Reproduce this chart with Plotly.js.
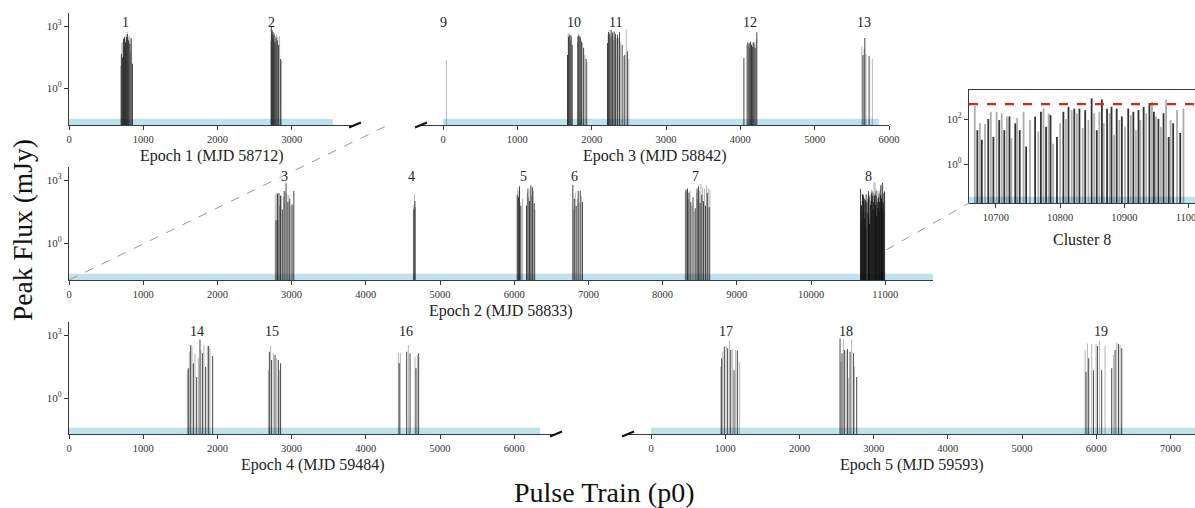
<!DOCTYPE html>
<html><head><meta charset="utf-8">
<script src="https://cdn.plot.ly/plotly-3.0.1.min.js"></script>
<style>html,body{margin:0;padding:0;background:#fff}#chart{width:1195px;height:508px}</style>
</head><body><div id="chart"></div>
<script>
// ---------------- DATA (pulse index p0, peak flux mJy) ----------------
// Epoch 1 (MJD 58712): clusters 1, 2
const c1_p0 = [698,705,712,720,727,734,741,748,755,762,769,776,783,790,797,804,812,820,828,836,845,855];
const c1_flux = [12,45,150,30,180,250,90,300,220,160,380,290,520,410,260,200,330,140,60,260,220,15];
const c2_p0 = [2720,2726,2732,2738,2744,2750,2756,2762,2768,2775,2782,2790,2798,2806,2815,2825,2838,2852,2862];
const c2_flux = [180,950,420,650,300,520,240,380,460,160,330,270,400,200,300,120,330,25,20];
// Epoch 3 (MJD 58842): clusters 9-13
const c9_p0 = [45];
const c9_flux = [22];
const c10_p0 = [1675,1683,1690,1698,1706,1714,1722,1730,1738,1808,1815,1822,1830,1838,1846,1855,1865,1878,1892,1908,1925,1938];
const c10_flux = [40,420,300,450,380,200,350,280,120,180,320,420,350,260,300,230,180,150,90,40,25,18];
const c11_p0 = [2212,2220,2228,2236,2244,2252,2262,2272,2282,2292,2302,2312,2322,2335,2348,2360,2375,2390,2410,2430,2445,2465,2480,2500];
const c11_flux = [150,380,520,600,420,280,650,350,480,200,550,300,420,250,380,260,500,180,120,35,40,700,60,25];
const c12_p0 = [4048,4085,4100,4110,4118,4126,4134,4142,4150,4158,4166,4174,4182,4190,4200,4212,4222];
const c12_flux = [28,130,160,110,150,90,180,140,120,160,100,150,170,130,90,220,500];
const c13_p0 = [5635,5650,5665,5675,5690,5732,5775];
const c13_flux = [100,40,80,260,45,35,25];
// Epoch 2 (MJD 58833): clusters 3-8
const c3_p0 = [2780,2790,2800,2810,2820,2830,2840,2850,2862,2875,2888,2900,2912,2925,2938,2950,2962,2975,2990,3005,3020,3030];
const c3_flux = [200,12,250,220,12,240,60,180,200,40,160,300,250,700,220,90,200,130,60,70,60,300];
const c4_p0 = [4640,4648,4655,4662,4670];
const c4_flux = [60,40,210,100,50];
const c5_p0 = [6040,6048,6056,6064,6072,6080,6090,6112,6165,6175,6185,6195,6205,6215,6225,6235,6245,6258,6270,6280];
const c5_flux = [200,400,150,300,500,90,60,130,60,250,380,150,100,400,570,180,450,300,80,40];
const c6_p0 = [6790,6800,6810,6822,6835,6850,6862,6875,6890,6905,6920];
const c6_flux = [580,40,130,250,60,130,300,80,320,170,90];
const c7_p0 = [8305,8315,8325,8335,8345,8355,8368,8380,8395,8410,8425,8440,8455,8465,8475,8485,8495,8505,8515,8528,8540,8552,8565,8578,8590,8602,8615,8628,8638];
const c7_flux = [280,350,320,400,120,250,300,90,60,150,30,45,250,400,120,500,300,80,650,200,450,100,380,60,550,250,420,50,350];
const c8_p0 = [10667,10671,10675,10678,10683,10688,10692,10696,10701,10705,10709,10713,10717,10721,10724,10730,10733,10737,10743,10747,10753,10761,10766,10770,10774,10778,10782,10785,10789,10795,10800,10805,10809,10813,10818,10822,10826,10830,10835,10839,10844,10849,10853,10857,10861,10865,10868,10873,10877,10880,10884,10888,10892,10896,10901,10906,10910,10914,10918,10922,10925,10930,10934,10939,10943,10946,10949,10953,10957,10961,10965,10969,10972,10976,10982,10987,10992];
const c8_flux = [380,32,65,12,60,100,210,16,210,90,180,32,130,130,14,65,110,32,210,6,90,130,28,210,290,45,180,150,8,16,65,210,100,350,250,290,180,290,40,250,90,830,180,32,210,740,65,290,180,350,20,290,90,130,45,290,150,210,32,250,90,350,180,500,590,210,130,100,45,180,740,16,90,65,250,24,290];
// Epoch 4 (MJD 59484): clusters 14-16
const c14_p0 = [1595,1608,1622,1640,1658,1676,1698,1721,1743,1765,1779,1801,1819,1842,1864,1882,1900,1936];
const c14_flux = [21,26,158,331,275,45,135,10,78,617,195,135,331,31,302,302,234,100];
const c15_p0 = [2686,2700,2718,2731,2754,2776,2799,2821,2835,2852];
const c15_flux = [21,158,302,65,135,112,78,65,21,45];
const c16_p0 = [4438,4450,4465,4551,4573,4596,4663,4676,4694,4712];
const c16_flux = [145,45,135,158,331,135,93,26,112,135];
// Epoch 5 (MJD 59593): clusters 17-19
const c17_p0 = [939,952,966,988,1011,1033,1056,1074,1096,1119,1141,1163,1190];
const c17_flux = [31,78,158,275,302,234,537,195,214,21,195,178,54];
const c18_p0 = [2547,2560,2574,2592,2605,2628,2646,2664,2682,2704,2727,2740,2772];
const c18_flux = [692,54,135,617,195,178,214,9,158,617,135,31,10];
const c19_p0 = [5849,5862,5880,5898,5939,5961,5997,6015,6042,6073,6118,6208,6230,6253,6275,6298,6320,6343];
const c19_flux = [195,18,398,78,372,21,372,302,537,21,302,26,112,195,427,372,331,234];

// observed span of each epoch (pulse periods)
const epoch_names = ['Epoch 1 (MJD 58712)','Epoch 3 (MJD 58842)','Epoch 2 (MJD 58833)','Epoch 4 (MJD 59484)','Epoch 5 (MJD 59593)'];
const epoch_span = [3558, 5863, 11644, 6348, 7330];
// cluster labels and centres
const cluster_ids = ['1','2','9','10','11','12','13','3','4','5','6','7','8','14','15','16','17','18','19'];
const cluster_pos = [768,2731,0,1756,2318,4128,5660,2898,4618,6123,6819,8437,10772,1721,2740,4542,1011,2624,6061];
const cluster_panel = [0,0,1,1,1,1,1,2,2,2,2,2,2,3,3,3,4,4,4];
const threshold_mJy = 460;

// ---------------- LAYOUT GEOMETRY ----------------
const W = 1195, H = 508;
const px = v => v / W, py = v => 1 - v / H;
const FONT = 'Liberation Serif, "Times New Roman", serif';
const AX = ['x','x2','x3','x4','x5','x6'];
const AY = ['y','y2','y3','y4','y5','y6'];

const panels = [
  {x0:69,  x1:355, y0:13,  y1:125, range:[0,3854],    ylog:[-1.79,3.63], yvis:true,  ticks:[0,1000,2000,3000]},
  {x0:421, x1:889, y0:13,  y1:125, range:[-296,6000], ylog:[-1.79,3.63], yvis:false, ticks:[0,1000,2000,3000,4000,5000,6000]},
  {x0:69,  x1:933, y0:167, y1:280, range:[0,11644],   ylog:[-1.76,3.62], yvis:true,  ticks:[0,1000,2000,3000,4000,5000,6000,7000,8000,9000,10000,11000]},
  {x0:69,  x1:556, y0:322, y1:434, range:[0,6563],    ylog:[-1.71,3.62], yvis:true,  ticks:[0,1000,2000,3000,4000,5000,6000]},
  {x0:628, x1:1195,y0:322, y1:434, range:[-310,7330], ylog:[-1.71,3.62], yvis:false, ticks:[0,1000,2000,3000,4000,5000,6000,7000]},
  {x0:969, x1:1195,y0:90,  y1:203, range:[10658,11010], ylog:[-1.73,3.29], yvis:true, ticks:[10700,10800,10900,11000]}
];

const panelData = [
  {p0:[...c1_p0,...c2_p0], f:[...c1_flux,...c2_flux]},
  {p0:[...c9_p0,...c10_p0,...c11_p0,...c12_p0,...c13_p0], f:[...c9_flux,...c10_flux,...c11_flux,...c12_flux,...c13_flux]},
  {p0:[...c3_p0,...c4_p0,...c5_p0,...c6_p0,...c7_p0,...c8_p0], f:[...c3_flux,...c4_flux,...c5_flux,...c6_flux,...c7_flux,...c8_flux]},
  {p0:[...c14_p0,...c15_p0,...c16_p0], f:[...c14_flux,...c15_flux,...c16_flux]},
  {p0:[...c17_p0,...c18_p0,...c19_p0], f:[...c17_flux,...c18_flux,...c19_flux]},
  {p0:c8_p0, f:c8_flux}
];

const traces = [];
const layout = {
  width: W, height: H, margin:{l:0,r:0,t:0,b:0},
  paper_bgcolor:'#fff', plot_bgcolor:'rgba(0,0,0,0)',
  showlegend:false, barmode:'overlay',
  font:{family:FONT, color:'#222'},
  annotations:[], shapes:[]
};

panels.forEach((p, i) => {
  const xk = i === 0 ? 'xaxis' : 'xaxis' + (i+1);
  const yk = i === 0 ? 'yaxis' : 'yaxis' + (i+1);
  const pxPerUnit = (p.x1 - p.x0) / (p.range[1] - p.range[0]);
  const d = panelData[i];
  traces.push({
    type:'bar', x:d.p0, y:d.f, base:0.005,
    width: (i === 5 ? 1.8 : 0.9) / pxPerUnit,
    marker:{color: d.p0.map((_, k) => k % 2 ? 'rgba(0,0,0,0.8)' : 'rgba(0,0,0,0.32)'), line:{width:0}},
    xaxis: AX[i], yaxis: AY[i], hoverinfo:'skip'
  });
  layout[xk] = {
    domain:[px(p.x0), px(p.x1)], range:p.range, anchor:AY[i], fixedrange:true,
    showline:true, linecolor:'#3a3a3a', linewidth:1.2, mirror: i === 5,
    ticks:'outside', ticklen:4, tickwidth:1, tickcolor:'#3a3a3a',
    tickvals:p.ticks, ticktext:p.ticks.map(String), ticklabeloverflow:'allow',
    tickfont:{family:FONT, size:10.5, color:'#333'},
    showgrid:false, zeroline:false
  };
  const yt = i === 5 ? [1,100] : [1,1000];
  layout[yk] = {
    domain:[py(p.y1), py(p.y0)], type:'log', range:p.ylog, anchor:AX[i], fixedrange:true,
    visible:p.yvis, showline:true, linecolor:'#3a3a3a', linewidth:1.2,
    ticks:'outside', ticklen:4, tickwidth:1, tickcolor:'#3a3a3a',
    tickvals:yt, ticktext:yt.map(v => '10<sup>' + Math.round(Math.log10(v)) + '</sup>'),
    tickfont:{family:FONT, size:11, color:'#333'},
    showgrid:false, zeroline:false
  };
  // observation band
  const spanEnd = i === 5 ? p.range[1] : epoch_span[i];
  layout.shapes.push({type:'rect', layer:'below', xref:AX[i], yref:AY[i] + ' domain',
    x0: i === 5 ? p.range[0] : 0, x1: spanEnd, y0:0, y1:0.055,
    fillcolor:'rgb(190,226,238)', line:{width:0}});
  // epoch / cluster titles
  const titleY = [156,156,311,465,465,239][i];
  layout.annotations.push({xref:AX[i] + ' domain', x:0.5, yref:'paper', y:py(titleY),
    text: i === 5 ? 'Cluster 8' : epoch_names[i], showarrow:false, yanchor:'middle',
    font:{family:FONT, size:16, color:'#222'}});
});

// red threshold line in the inset
traces.push({type:'scatter', mode:'lines', x:[panels[5].range[0], panels[5].range[1]],
  y:[threshold_mJy, threshold_mJy], xaxis:'x6', yaxis:'y6',
  line:{color:'#d62a0e', width:2.2, dash:'dash'}, hoverinfo:'skip'});

// cluster numbers
const rowY = [22,22,176.5,331,331,0];
cluster_ids.forEach((id, k) => {
  const pi = cluster_panel[k];
  layout.annotations.push({xref:AX[pi], x:cluster_pos[k], yref:'paper', y:py(rowY[pi]),
    text:id, showarrow:false, yanchor:'middle', font:{family:FONT, size:14, color:'#222'}});
});

// global axis titles
layout.annotations.push({xref:'paper', yref:'paper', x:px(22), y:py(230), text:'Peak Flux (mJy)',
  textangle:-90, showarrow:false, xanchor:'center', yanchor:'middle', font:{family:FONT, size:27.5, color:'#111'}});
layout.annotations.push({xref:'paper', yref:'paper', x:px(604), y:py(492), text:'Pulse Train (p0)',
  showarrow:false, xanchor:'center', yanchor:'middle', font:{family:FONT, size:28, color:'#111'}});

// axis-break marks
[[355,125],[421,125],[556,434],[628,434]].forEach(c => {
  layout.shapes.push({type:'line', xref:'paper', yref:'paper',
    x0:px(c[0]-6), y0:py(c[1]+2.5), x1:px(c[0]+6), y1:py(c[1]-2.5), line:{color:'#111', width:2}});
});
// zoom connector lines
layout.shapes.push({type:'line', xref:'paper', yref:'paper', x0:px(69), y0:py(280), x1:px(386), y1:py(126),
  line:{color:'#999', width:1, dash:'dash'}});
layout.shapes.push({type:'line', xref:'paper', yref:'paper', x0:px(886), y0:py(250), x1:px(969), y1:py(203),
  line:{color:'#999', width:1, dash:'dash'}});

Plotly.newPlot('chart', traces, layout, {staticPlot:true, displayModeBar:false});
</script></body></html>
